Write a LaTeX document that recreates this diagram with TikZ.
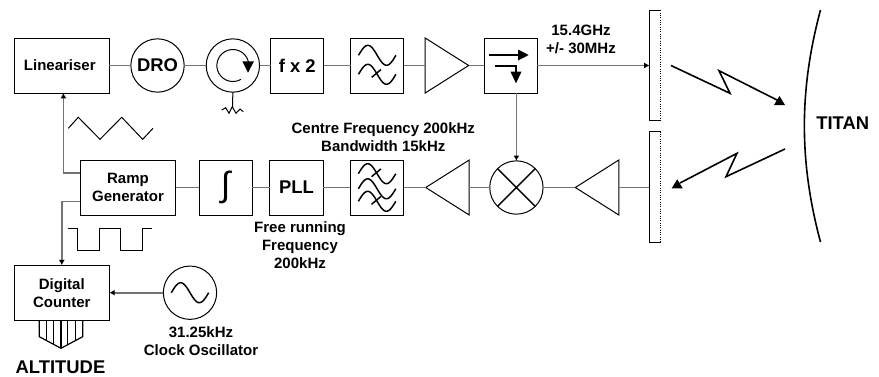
\documentclass[tikz,border=0pt]{standalone}
\usepackage{fontspec}
\setmainfont{Liberation Sans}
\usepackage{tikz}
\usetikzlibrary{arrows.meta,positioning,shapes.geometric}
\definecolor{cL}{gray}{0.45}
\tikzset{
  blk/.style={draw,line width=.75pt,inner sep=0pt,outer sep=0pt,align=center,
              minimum width=40pt,minimum height=41.25pt,font=\bigtxt},
  wideblk/.style={blk,minimum width=71.4pt,font=\midtxt},
  rnd/.style={circle,draw,line width=.75pt,inner sep=0pt,outer sep=0pt,
              minimum size=40pt,font=\bigtxt},
  ampl/.style={isosceles triangle,isosceles triangle stretches,draw,line width=.75pt,
               inner sep=0pt,outer sep=0pt,minimum width=41.25pt,minimum height=32.6pt},
  horn/.style={inner sep=0pt,outer sep=0pt,minimum width=8.25pt,minimum height=83pt},
  lbl/.style={align=center,inner sep=0pt,font=\midtxt},
  conn/.style={cL,line width=1.2pt},
  feed/.style={conn,-{Latex[length=4pt,width=4.5pt,black]}},
  trace/.style={line width=.75pt},
  bolt/.style={line width=1.2pt},
  sinewave/.pic={
    \draw[line width=1.1pt] plot[domain=-1:1,samples=31,smooth] ({18.7*\x},{10*sin(180*\x)});},
  crossing/.pic={\draw[line width=1.1pt] (-5.5,3) -- (3.8,-4.8);},
}
\newcommand{\midtxt}{\fontsize{11.25}{13.4}\selectfont\bfseries}
\newcommand{\bigtxt}{\fontsize{13.8}{16}\selectfont\bfseries}

\begin{document}
\begin{tikzpicture}[x=.75pt,y=-.75pt]
  \useasboundingbox (0,0) rectangle (879,376);
  % upper chain
  \node[wideblk] (lin) at (61.8,65.5) {Lineariser\hspace*{3pt}};
  \node[rnd,right=16.1pt of lin] (dro) {DRO};
  \node[rnd,right=16.5pt of dro] (circ) {};
  \node[blk,right=8.25pt of circ] (dbl) {f x 2};
  \node[blk,right=20pt of dbl] (bpf) {};
  \node[ampl,right=16pt of bpf] (pa) {};
  \node[blk,right=11.6pt of pa] (coup) {};
  \node[horn,anchor=west] (txant) at (649.5,65.5) {};
  % lower chain
  \node[wideblk] (ramp) at (128,187.5) {Ramp\\Generator};
  \node[blk,right=17.6pt of ramp] (integ) {\fontsize{26}{26}\selectfont\normalfont ∫};
  \node[blk,right=13pt of integ] (pll) {PLL};
  \node[blk,right=20.5pt of pll] (nbf) {};
  \node[ampl,shape border rotate=180,right=16.5pt of nbf] (ifa) {};
  \node[rnd,right=15.4pt of ifa] (mix) {};
  \node[ampl,shape border rotate=180,right=24.2pt of mix] (lna) {};
  \node[horn,anchor=west] (rxant) at (649.5,187) {};
  % counter
  \node[wideblk] (cnt) at (61.8,292.7) {Digital\\Counter};
  \node[rnd] (osc) at (190,292.7) {};
  % labels
  \node[lbl] (txf) at (581,39) {15.4GHz\\+/- 30MHz};
  \node[lbl] (cfl) at (383.3,137) {Centre Frequency 200kHz\\Bandwidth 15kHz};
  \node[lbl] (frl) at (300,245) {Free running\\Frequency\\200kHz};
  \node[lbl] (ckl) at (201,341) {31.25kHz\\Clock Oscillator};
  \node[lbl,font=\bigtxt] (alt) at (60.5,367) {ALTITUDE};
  \node[lbl,font=\bigtxt] (tit) at (842.7,123) {TITAN};
  % connectors
  \draw[conn] (lin)--(dro);\draw[conn] (dro)--(circ);\draw[conn] (circ)--(dbl);
  \draw[conn] (dbl)--(bpf);\draw[conn] (bpf)--(pa);\draw[conn] (pa)--(coup);
  \draw[feed] (coup.east)--(txant.west);
  \draw[feed] (coup.south -| mix.north)--(mix.north);
  \draw[conn] (ramp)--(integ);\draw[conn] (integ)--(pll);\draw[conn] (pll)--(nbf);
  \draw[conn] (nbf)--(ifa);\draw[conn] (ifa)--(mix);\draw[conn] (mix)--(lna);
  \draw[conn] (lna.east)--(lna.east -| rxant.west);
  \coordinate (ra) at (ramp.west |- 0,172.7);
  \coordinate (rb) at (ramp.west |- 0,201.3);
  \draw[feed] (ra) -| ([xshift=1.2pt]lin.south);
  \draw[feed] (rb) -| (cnt.north);
  \draw[feed] (osc)--(cnt);
  % antennas
  \foreach \a in {txant,rxant}{
    \draw[line width=.75pt] (\a.north east)--(\a.north west)--(\a.south west)--(\a.south east);
    \draw[line width=.75pt,densely dotted] (\a.north east)--(\a.south east);
  }
  % titan and the two links
  \draw[line width=1.2pt] (820.5,10) .. controls (799,90) and (799,162) .. (820.5,242);
  \draw[bolt] (671,65.5)--(730,93.3)--(719,70.7)--(779,101);
  \fill (774,105)--(785,105)--(779.5,96)--cycle;
  \draw[bolt] (785,149)--(726,176.7)--(737,153.3)--(680,183);
  \fill (671.7,188.3)--(682.7,188.3)--(677.2,179.3)--cycle;
  % circulator
  \draw[line width=.75pt] (circ)+(60:16) arc[start angle=60,end angle=360,radius=16];
  \fill (242.3,61.3)--(254,61.3)--(248,72.7)--cycle;
  \draw[line width=.75pt] (circ.south)--(232.5,107)
    (221.7,110)--(225.7,107.7)--(229,113.3)--(232.3,106.7)--(236,113.3)--(240,109)--(243.3,111.7);
  % filters and oscillator
  \path (bpf) ++(0,-10.2) pic {sinewave};
  \path (bpf) ++(0,8.8) pic {sinewave} pic {crossing};
  \path (nbf) ++(0,-13.8) pic {sinewave} pic {crossing};
  \path (nbf) ++(0,1.3) pic {sinewave};
  \path (nbf) ++(0,13.8) pic {sinewave} pic {crossing};
  \path (osc) pic {sinewave};
  % mixer cross
  \draw[line width=1.1pt] (mix.45)--(mix.225) (mix.135)--(mix.315);
  % coupler arrows
  \draw[line width=1.2pt] (489.3,55)--(519,55);
  \fill (518,49.5)--(528.7,55)--(518,60.5)--cycle;
  \draw[line width=1.2pt] (494.7,65.7)--(516,65.7)--(516,72);
  \fill (510.5,71.7)--(521.5,71.7)--(516,83.3)--cycle;
  % sweep and gate waveforms
  \draw[trace] (68.3,128.3)--(78.3,117.3)--(100,139.3)--(121.7,117.3)--(142.7,139.3)--(153,128.3);
  \draw[trace] (67.7,228)--(77.7,228)--(77.7,250)--(99,250)--(99,228)--(120.7,228)--(120.7,250)--(142,250)--(142,228)--(152,228);
  % output bus
  \draw[line width=.9pt] (39.3,320.5)--(39.3,336.7)--(61,348.3)--(82.7,336.7)--(82.7,320.5);
  \foreach \bx/\by in {46.7/340.7,53.3/344.2,61/348.3,67.7/344.7,75.7/340.4}
    \draw[line width=.9pt] (\bx,320.5)--(\bx,\by);
\end{tikzpicture}
\end{document}
